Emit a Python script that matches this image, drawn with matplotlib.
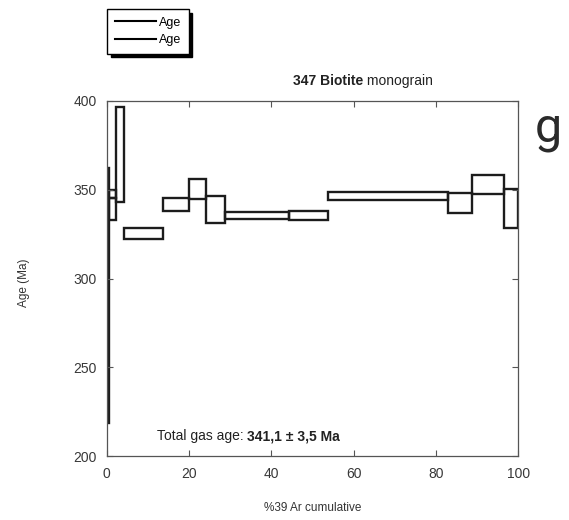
import matplotlib
matplotlib.use("Agg")
import matplotlib.pyplot as plt
from matplotlib.lines import Line2D

plt.rcParams['font.family'] = ['Liberation Sans', 'DejaVu Sans']

# heating steps: cumulative %39Ar range and age bounds (Ma)
step_start = [0.0, 0.5, 0.5, 2.2, 4.3, 13.75, 20.0, 24.05, 28.7, 44.4, 53.8, 83.0, 88.7, 96.6]
step_end = [0.5, 2.2, 2.2, 4.3, 13.75, 20.0, 24.05, 28.7, 44.4, 53.8, 83.0, 88.7, 96.6, 100.0]
age_low = [218.6, 345.2, 333.0, 343.1, 322.3, 338.0, 344.6, 331.4, 333.5, 332.8, 344.2, 336.7, 347.4, 328.3]
age_high = [362.4, 349.9, 345.2, 396.8, 328.3, 345.2, 355.9, 346.6, 337.4, 338.2, 348.6, 348.0, 358.3, 350.3]

x_ticks = [0, 20, 40, 60, 80, 100]
y_ticks = [200, 250, 300, 350, 400]
legend_labels = ['Age', 'Age']

fig = plt.figure(figsize=(5.69, 5.20), dpi=100)
ax = fig.add_axes([106.7 / 569, 1 - 456 / 520, 411.6 / 569, 355 / 520])

widths = [e - s for s, e in zip(step_start, step_end)]
heights = [h - l for l, h in zip(age_low, age_high)]
ax.bar(step_start, heights, width=widths, bottom=age_low, align='edge',
       fill=False, edgecolor='#1c1c1c', linewidth=1.7)

ax.set_xlim(0, 100)
ax.set_ylim(200, 400)
ax.set_xticks(x_ticks)
ax.set_yticks(y_ticks)
ax.tick_params(direction='in', top=True, right=True, length=4, width=0.8,
               color='#555555', labelcolor='#383838', labelsize=10)
ax.tick_params(axis='x', pad=8)
ax.tick_params(axis='y', pad=7)
for sp in ax.spines.values():
    sp.set_color('#555555')
    sp.set_linewidth(0.9)

ax.set_xlabel('%39 Ar cumulative', fontsize=8.5, color='#333333')
ax.set_ylabel('Age (Ma)', fontsize=8.5, color='#333333')
ax.xaxis.set_label_coords(0.5, -0.13)
ax.yaxis.set_label_coords(-0.186, 0.487)

# title: bold sample name + normal text
t1 = ax.text(0.452, 1.045, '347 Biotite', transform=ax.transAxes, fontsize=10,
             fontweight='bold', color='#222222', va='baseline', ha='left')
ax.annotate(' monograin', xy=(1, 0), xycoords=t1, fontsize=10, color='#222222',
            va='bottom', ha='left')

# total gas age
t2 = ax.text(12.2, 209, 'Total gas age: ', fontsize=10, color='#222222',
             va='baseline', ha='left')
ax.annotate('341,1 \u00b1 3,5 Ma', xy=(1, 0), xycoords=t2, fontsize=10,
            fontweight='bold', color='#222222', va='bottom', ha='left')

fig.text(0.940, 0.727, 'g', fontsize=35, family='Roboto', color='#2a2a2a',
         ha='left', va='baseline')

handles = [Line2D([], [], color='black', linewidth=1.5) for _ in legend_labels]
fig.legend(handles, legend_labels, loc='upper left',
           bbox_to_anchor=(107.3 / 569, 1 - 9.3 / 520), borderaxespad=0,
           fontsize=9, handlelength=3.3, handletextpad=0.25, borderpad=0.6,
           labelspacing=0.45, fancybox=False, edgecolor='black', framealpha=1,
           shadow={'ox': 2.5, 'oy': -2.5, 'color': 'black', 'alpha': 1})

fig.savefig('out.png', dpi=100, facecolor='white')
